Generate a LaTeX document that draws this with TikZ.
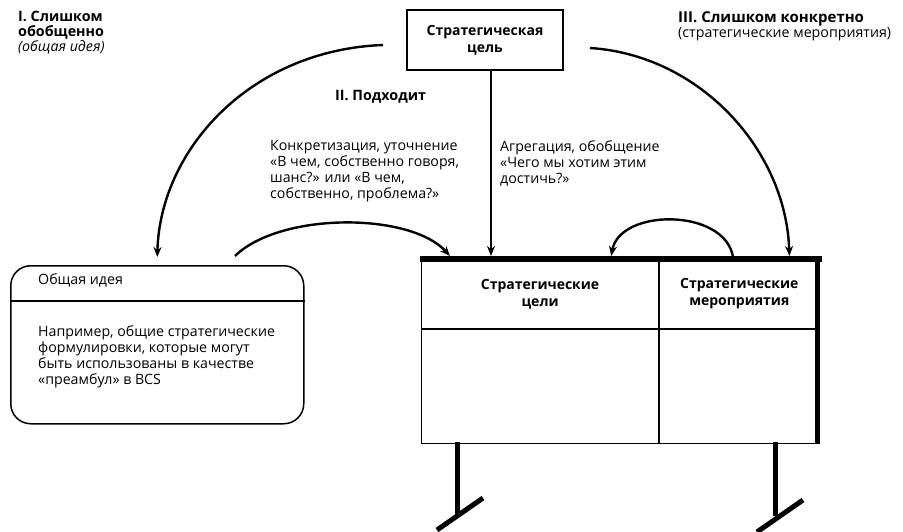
\documentclass[tikz,border=0pt]{standalone}
\usepackage{fontspec}
\setmainfont{Open Sans}
\usetikzlibrary{arrows.meta}
\tikzset{
  txt/.style={anchor=north west, inner sep=0pt, align=left, font=\fontsize{14.2}{16.2}\selectfont},
  ttl/.style={anchor=north west, inner sep=0pt, align=left, font=\fontsize{14.3}{15}\selectfont\bfseries},
  cell/.style={draw, line width=1.2pt, anchor=north west, inner sep=0pt, align=center, font=\fontsize{14}{17}\selectfont\bfseries},
  arr/.style={line width=2.4pt, -{Stealth[length=10pt,width=8pt]}},
  leg/.style={line width=5pt},
}
\begin{document}
\begin{tikzpicture}[x=1pt,y=-1pt]
\useasboundingbox (0,0) rectangle (903,532);
% titles
\node[ttl] (t1) at (18,11) {I. Слишком\\обобщенно};
\node[txt, font=\fontsize{14.2}{16}\selectfont\itshape] (t1b) at (18,40) {(общая идея)};
\node[ttl] (t2) at (335,90) {II. Подходит};
\node[ttl, font=\fontsize{15}{15}\selectfont\bfseries] (t3) at (678,11) {III. Слишком конкретно};
\node[txt] (t3b) at (678,27) {(стратегические мероприятия)};
% goal box
\node[draw, line width=1.2pt, minimum width=156, minimum height=60, inner sep=0pt, align=center,
      font=\fontsize{14}{17}\selectfont\bfseries] (goal) at (485,40) {Стратегическая\\цель};
% labels
\node[txt] (lab1) at (270,140) {Конкретизация, уточнение\\«В чем, собственно говоря,\\шанс?» или «В чем,\\собственно, проблема?»};
\node[txt] (lab2) at (500,140) {Агрегация, обобщение\\«Чего мы хотим этим\\достичь?»};
% idea box
\node[draw, line width=1.5pt, rounded corners=20pt, minimum width=293, minimum height=158, anchor=north west, inner sep=0pt] (idea) at (10,265) {};
\draw[line width=1.2pt] ([yshift=-36pt]idea.north west) -- ([yshift=-36pt]idea.north east);
\node[txt] (ideah) at (38,273) {Общая идея};
\node[txt] (ideab) at (38,325) {Например, общие стратегические\\формулировки, которые могут\\быть использованы в качестве\\«преамбул» в BCS};
% board
\node[cell, minimum width=237, minimum height=69] (h1) at (421,259) {Стратегические\\цели};
\node[cell, minimum width=159, minimum height=69] (h2) at (h1.north east) {Стратегические\\мероприятия};
\node[cell, minimum width=237, minimum height=114] (b1) at (h1.south west) {};
\node[cell, minimum width=159, minimum height=114] (b2) at (h2.south west) {};
\draw[line width=6pt] ([xshift=-0.6pt]h1.north west) -- ([xshift=2.5pt]h2.north east);
\draw[line width=5pt] ([xshift=-1.9pt]h2.north east) -- ([xshift=-1.9pt]b2.south east);
% legs
\draw[leg] (457,442) -- (457,514);
\draw[leg] (437,530) -- (483,498);
\draw[leg] (775,442) -- (775,516);
\draw[leg] (757,532) -- (803,500);
% connectors
\coordinate (s1) at (383,45);
\coordinate (s2) at (590,48);
\draw[arr] (s1) .. controls (250,50) and (160,150) .. ([yshift=8pt]idea.north);
\draw[arr] (s2) .. controls (700,55) and (786,150) .. ([xshift=-30pt,yshift=3pt]h2.north east);
\draw[arr, line width=2pt] ([xshift=6pt]goal.south) -- ([xshift=6pt,yshift=3pt]goal.south |- h1.north);
\coordinate (s3) at (235,256);
\draw[arr] (s3) .. controls (280,212) and (410,212) .. ([xshift=29pt,yshift=3pt]h1.north west);
\coordinate (s4) at (733,257);
\draw[arr] (s4) .. controls (725,208) and (620,208) .. ([xshift=-48pt,yshift=3pt]h2.north west);
\end{tikzpicture}
\end{document}
